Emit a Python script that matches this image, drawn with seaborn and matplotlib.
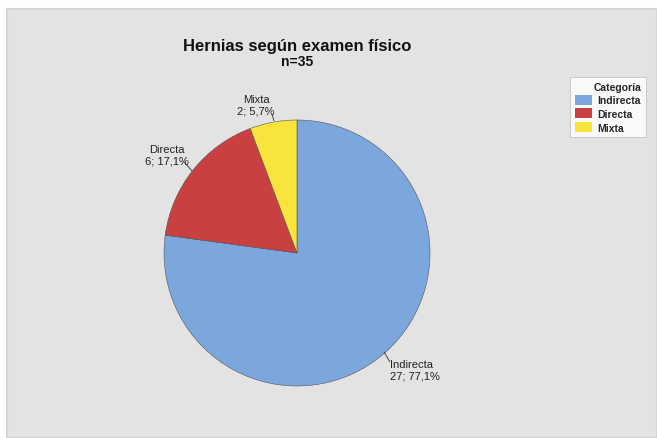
import matplotlib
matplotlib.use("Agg")
import matplotlib.pyplot as plt
from matplotlib.patches import Rectangle
import seaborn as sns

categories = ["Indirecta", "Directa", "Mixta"]
counts = [27, 6, 2]
pct_labels = ["77,1%", "17,1%", "5,7%"]
colors = ["#7ba7dc", "#c84040", "#f8e43c"]

sns.set_theme(style="white")
plt.rcParams["font.family"] = ["Liberation Sans", "DejaVu Sans"]

W, H = 657, 439
fig = plt.figure(figsize=(W / 100, H / 100), dpi=100, facecolor="white")

# gray background panel
bg = Rectangle((7 / W, 0), 1 - 7 / W, 1 - 10 / H, transform=fig.transFigure,
               facecolor="#e3e3e3", edgecolor="#d6d6d6", linewidth=1.5, zorder=-10)
fig.patches.append(bg)

cx, cy, r = 297, 254, 133
ax = fig.add_axes([(cx - r) / W, (H - cy - r) / H, 2 * r / W, 2 * r / H])
ax.set_zorder(5)
ax.set_facecolor("none")
wedges, _ = ax.pie(counts, colors=colors, startangle=90, counterclock=False,
                   radius=1, wedgeprops=dict(edgecolor="#555555", linewidth=0.4))
ax.set_xlim(-1, 1)
ax.set_ylim(-1, 1)
ax.set_aspect("equal")
ax.axis("off")


def px(x, y):
    """pixel position -> pie data coords"""
    return (x - cx) / r, -(y - cy) / r


# labels: (text anchor px, ha, leader line start px, leader end px)
label_specs = [
    ((390, 371), "left", (390, 363), (384, 353)),
    ((167, 156), "center", (184, 163), (192, 172)),
    ((256, 106), "center", (272, 115), (274, 122)),
]
for i, (cat, n, p) in enumerate(zip(categories, counts, pct_labels)):
    tpos, ha, l0, l1 = label_specs[i]
    tx, ty = px(*tpos)
    ax.text(tx, ty, f"{cat}\n{n}; {p}", ha=ha, va="center", fontsize=8,
            color="#222222", linespacing=1.15, clip_on=False)
    x0, y0 = px(*l0)
    x1, y1 = px(*l1)
    ax.plot([x0, x1], [y0, y1], color="#444444", lw=0.7, clip_on=False,
            solid_capstyle="butt")

fig.text(297 / W, 1 - 46 / H, "Hernias según examen físico", ha="center",
         va="center", fontsize=12, fontweight="bold", color="#111111")
fig.text(297 / W, 1 - 62 / H, "n=35", ha="center", va="center",
         fontsize=10, fontweight="bold", color="#111111")

leg = fig.legend(wedges, categories, title="Categoría", loc="upper left",
                 bbox_to_anchor=(570 / W, 1 - 78 / H), frameon=True,
                 fontsize=7.5, title_fontsize=7.5, handlelength=1.7,
                 handleheight=1.1, handletextpad=0.5, borderpad=0.45,
                 labelspacing=0.3, borderaxespad=0, fancybox=False,
                 alignment="right")
leg.set_zorder(6)
leg.get_frame().set_facecolor("white")
leg.get_frame().set_edgecolor("#bbbbbb")
leg.get_frame().set_linewidth(0.6)
leg.get_title().set_fontweight("bold")
for t in leg.get_texts():
    t.set_fontweight("bold")
for h in leg.legend_handles:
    h.set_edgecolor("none")

fig.savefig("out.png", dpi=100, facecolor="white")
